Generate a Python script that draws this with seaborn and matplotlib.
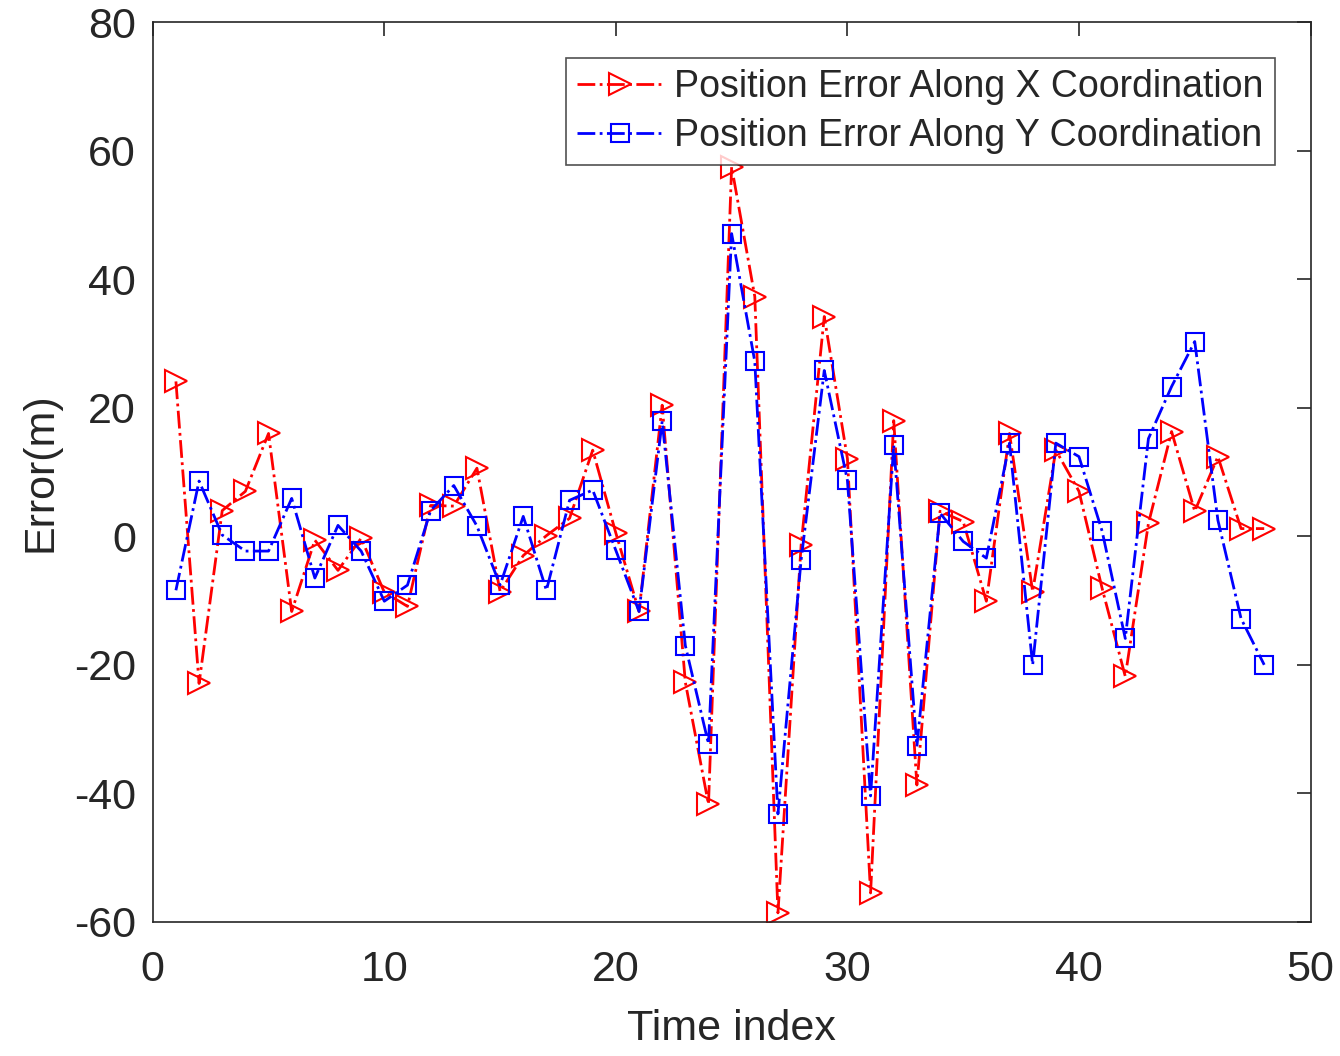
import matplotlib
matplotlib.use("Agg")
import matplotlib.pyplot as plt
import seaborn as sns
import numpy as np

time_index = np.arange(1, 49)
err_x = [24.1, -22.9, 4.0, 7.0, 16.0, -11.7, -0.6, -5.3, -0.3, -8.7,
         -10.9, 4.8, 4.7, 10.6, -8.6, -3.0, 0.1, 2.8, 13.4, 0.5,
         -11.7, 20.4, -22.7, -41.7, 57.5, 37.3, -58.6, -1.4, 34.2, 12.1,
         -55.5, 18.0, -38.7, 3.9, 2.3, -10.1, 16.0, -8.6, 13.4, 7.0,
         -8.1, -21.8, 2.0, 16.3, 3.9, 12.4, 1.2, 1.2]
err_y = [-8.4, 8.6, 0.2, -2.3, -2.3, 5.9, -6.5, 1.7, -2.3, -10.1,
         -7.6, 4.0, 7.9, 1.6, -7.6, 3.1, -8.4, 5.6, 7.2, -2.2,
         -11.7, 17.9, -17.0, -32.3, 47.1, 27.2, -43.2, -3.7, 25.8, 8.7,
         -40.4, 14.2, -32.7, 3.6, -0.8, -3.4, 14.5, -20.0, 14.5, 12.4,
         0.8, -15.9, 15.2, 23.3, 30.3, 2.5, -12.8, -20.0]
label_x = "Position Error Along X Coordination"
label_y = "Position Error Along Y Coordination"

sns.set_style("white")
plt.rcParams['font.family'] = ['Liberation Sans', 'DejaVu Sans']
plt.rcParams['axes.unicode_minus'] = False

fig = plt.figure(figsize=(13.4, 10.56), dpi=100)
ax = fig.add_axes([0.114, 0.127, 0.864, 0.852])

sns.lineplot(x=time_index, y=err_x, ax=ax, color='red', linestyle='-.',
             linewidth=2, marker='>', markersize=16, markerfacecolor='none',
             markeredgecolor='red', markeredgewidth=1.5, label=label_x)
sns.lineplot(x=time_index, y=err_y, ax=ax, color='blue', linestyle='-.',
             linewidth=2, marker='s', markersize=13, markerfacecolor='none',
             markeredgecolor='blue', markeredgewidth=1.5, label=label_y)

ax.set_xlim(0, 50)
ax.set_ylim(-60, 80)
ax.set_xticks(range(0, 51, 10))
ax.set_yticks(range(-60, 81, 20))
ax.tick_params(direction='in', length=10, width=1.2, top=True, right=True,
               labelsize=31, colors='#262626')
ax.tick_params(axis='x', pad=20)
ax.tick_params(axis='y', pad=12)
for s in ax.spines.values():
    s.set_color('#262626')
    s.set_linewidth(1.2)
ax.set_xlabel("Time index", fontsize=31, color='#262626', labelpad=14)
ax.set_ylabel("Error(m)", fontsize=31, color='#262626', labelpad=10)

leg = ax.legend(loc='upper right', fontsize=27, frameon=True, fancybox=False,
                edgecolor='#262626', handlelength=2.3, borderpad=0.3,
                labelspacing=0.35, handletextpad=0.3, borderaxespad=0.95)
leg.get_frame().set_linewidth(1.2)

fig.savefig("out.png", dpi=100)
